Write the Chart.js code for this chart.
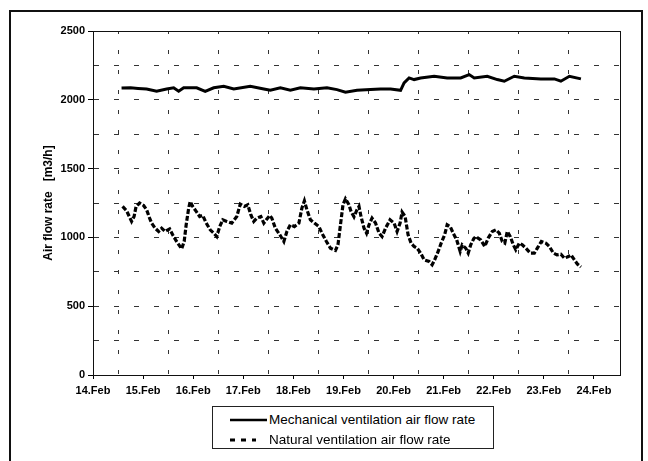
<!DOCTYPE html>
<html>
<head>
<meta charset="utf-8">
<script src="https://cdn.jsdelivr.net/npm/chart.js@4"></script>
<style>
  html, body { margin: 0; padding: 0; background: #fff; }
  #wrap { position: relative; width: 648px; height: 461px; overflow: hidden; background: #fff; }
  #c { position: absolute; left: 0; top: 0; }
  #frame { position: absolute; left: 9px; top: 10px; width: 634px; height: 470px;
           border: 2px solid #111; border-bottom: none; box-sizing: border-box; pointer-events: none; }
  #legend { position: absolute; left: 212px; top: 406px; width: 282px; height: 43px; box-sizing: border-box;
            border: 1px solid #222; background: #fff; font-family: "Liberation Sans", Arial, sans-serif;
            font-size: 13.5px; color: #000; }
  .row { position: absolute; left: 0; height: 20px; line-height: 20px; white-space: nowrap; }
  .row svg { position: absolute; left: 16px; top: 0; }
  .row span { position: absolute; left: 56px; top: 0; }
</style>
</head>
<body>
<div id="wrap">
  <canvas id="c" width="648" height="461"></canvas>
  <div id="frame"></div>
  <div id="legend">
    <div class="row" style="top:3px"><svg width="40" height="20"><line x1="1" y1="10" x2="38" y2="10" stroke="#000" stroke-width="2.5"/></svg><span id="l1"></span></div>
    <div class="row" style="top:23px"><svg width="40" height="20"><line x1="1" y1="10" x2="27" y2="10" stroke="#000" stroke-width="3" stroke-dasharray="5,6"/></svg><span id="l2"></span></div>
  </div>
</div>
<script>
// ---- data (x = days after 14.Feb 00:00) ----
const seriesNames = ["Mechanical ventilation air flow rate", "Natural ventilation air flow rate"];
const xTickLabels = ["14.Feb","15.Feb","16.Feb","17.Feb","18.Feb","19.Feb","20.Feb","21.Feb","22.Feb","23.Feb","24.Feb"];
const gridDays = [0.5,1.5,2.5,3.5,4.5,5.5,6.5,7.5,8.5,9.5];
const yTitle = "Air flow rate   [m3/h]";

const mechDays = [0.57,0.75,0.9,1.07,1.27,1.47,1.61,1.71,1.81,2.07,2.24,2.41,2.61,2.81,3.14,3.41,3.54,3.74,3.94,4.14,4.41,4.67,4.87,5.04,5.27,5.54,5.74,5.94,6.14,6.21,6.31,6.41,6.54,6.81,7.07,7.34,7.51,7.61,7.87,8.07,8.21,8.41,8.61,8.94,9.21,9.34,9.51,9.74];
const mechValues = [2085,2087,2083,2079,2062,2079,2087,2062,2087,2087,2062,2087,2098,2079,2098,2079,2069,2087,2069,2087,2079,2087,2074,2055,2069,2074,2079,2079,2069,2123,2159,2147,2159,2171,2159,2159,2183,2159,2171,2147,2135,2171,2159,2152,2152,2135,2171,2152];

const natDays = [0.59,0.67,0.77,0.82,0.86,0.93,1.01,1.07,1.13,1.17,1.24,1.31,1.37,1.44,1.53,1.59,1.67,1.77,1.82,1.86,1.91,1.94,1.99,2.06,2.13,2.19,2.26,2.34,2.41,2.47,2.53,2.59,2.67,2.77,2.87,2.94,3.02,3.09,3.15,3.21,3.27,3.35,3.41,3.46,3.53,3.57,3.64,3.73,3.81,3.87,3.94,4.02,4.11,4.17,4.22,4.27,4.34,4.42,4.51,4.57,4.66,4.74,4.84,4.89,4.94,4.99,5.04,5.11,5.15,5.21,5.27,5.31,5.35,5.41,5.46,5.51,5.57,5.64,5.71,5.77,5.84,5.93,6.01,6.07,6.13,6.17,6.23,6.29,6.35,6.41,6.47,6.54,6.61,6.71,6.77,6.82,6.89,6.95,7.02,7.07,7.13,7.19,7.26,7.33,7.37,7.44,7.49,7.54,7.60,7.64,7.74,7.82,7.89,7.97,8.04,8.11,8.17,8.22,8.27,8.33,8.39,8.44,8.51,8.57,8.64,8.73,8.81,8.87,8.95,9.04,9.11,9.19,9.26,9.34,9.41,9.49,9.54,9.61,9.67,9.74];
const natValues = [1225,1194,1116,1152,1225,1250,1232,1201,1140,1104,1067,1043,1067,1043,1062,1019,970,917,970,1092,1213,1261,1225,1189,1152,1160,1104,1055,1031,1006,1079,1128,1116,1104,1152,1242,1225,1237,1165,1116,1140,1152,1104,1128,1160,1140,1067,1019,970,1043,1092,1079,1104,1213,1266,1201,1128,1104,1079,1031,970,922,905,946,1092,1237,1281,1237,1189,1150,1201,1225,1152,1067,1031,1092,1140,1104,1031,1006,1067,1128,1104,1043,1104,1184,1152,1019,958,934,922,886,837,825,801,837,898,958,1019,1092,1079,1031,982,898,946,922,886,946,990,1006,982,934,995,1043,1055,1031,970,958,1043,1006,946,910,958,946,922,886,886,922,970,958,934,886,873,878,849,861,873,837,806,785];

document.getElementById('l1').textContent = seriesNames[0];
document.getElementById('l2').textContent = seriesNames[1];

const FONT = "'Liberation Sans', Arial, sans-serif";
const GRID = '#333';

new Chart(document.getElementById('c'), {
  type: 'line',
  data: {
    datasets: [
      { label: seriesNames[0], data: mechDays.map((d,i)=>({x:d, y:mechValues[i]})),
        borderColor: '#000', borderWidth: 3, pointRadius: 0, tension: 0, fill: false,
        xAxisID: 'x', yAxisID: 'y' },
      { label: seriesNames[1], data: natDays.map((d,i)=>({x:d, y:natValues[i]})),
        borderColor: '#000', borderWidth: 3.2, borderDash: [5,2], pointRadius: 0, tension: 0, fill: false,
        xAxisID: 'x', yAxisID: 'y' }
    ]
  },
  options: {
    responsive: false,
    animation: false,
    layout: { padding: { left: 0, top: 31, right: 28, bottom: 46 } },
    plugins: { legend: { display: false }, tooltip: { enabled: false } },
    scales: {
      x: {
        type: 'linear', position: 'bottom', min: 0, max: 10.52,
        afterBuildTicks: (axis) => { axis.ticks = xTickLabels.map((_, i) => ({ value: i })); },
        afterFit: (axis) => { axis.height = 40; },
        ticks: { callback: (v) => xTickLabels[v] ?? '', color: '#000', padding: 5, maxRotation: 0, autoSkip: false,
                 font: { family: FONT, size: 11, weight: 'bold' } },
        grid: { drawOnChartArea: false, drawTicks: true, tickLength: 4, color: '#000', tickBorderDash: [] },
        border: { display: true, color: '#111', width: 1 }
      },
      xg: {
        type: 'linear', position: 'top', min: 0, max: 10.52,
        afterBuildTicks: (axis) => { axis.ticks = gridDays.map(v => ({ value: v })); },
        afterFit: (axis) => { axis.height = 0; },
        ticks: { display: false },
        grid: { drawTicks: false, color: GRID, lineWidth: 1 },
        border: { display: true, color: '#111', width: 1, dash: [4,16], dashOffset: 2 }
      },
      y: {
        type: 'linear', position: 'left', min: 0, max: 2500,
        afterFit: (axis) => { axis.width = 93; },
        ticks: { stepSize: 250, color: '#000', padding: 3,
                 callback: (v) => (v % 500 === 0 ? String(v) : ''),
                 font: { family: FONT, size: 11, weight: 'bold' } },
        grid: { color: (ctx) => (ctx.tick && (ctx.tick.value === 0 || ctx.tick.value === 2500)) ? 'rgba(0,0,0,0)' : GRID,
                tickColor: (ctx) => (ctx.tick && ctx.tick.value % 500 === 0) ? '#000' : 'rgba(0,0,0,0)',
                tickLength: 5, tickBorderDash: [] },
        border: { display: true, color: '#111', width: 1, dash: [5,15], dashOffset: 0 },
        title: { display: true, text: yTitle, color: '#000', font: { family: FONT, size: 12, weight: 'bold' },
                 padding: { top: 41, bottom: 0 } }
      },
      yr: {
        type: 'linear', position: 'right', min: 0, max: 2500,
        afterFit: (axis) => { axis.width = 0; },
        ticks: { display: false },
        grid: { display: false },
        border: { display: true, color: '#111', width: 1 }
      }
    }
  }
});
</script>
</body>
</html>
